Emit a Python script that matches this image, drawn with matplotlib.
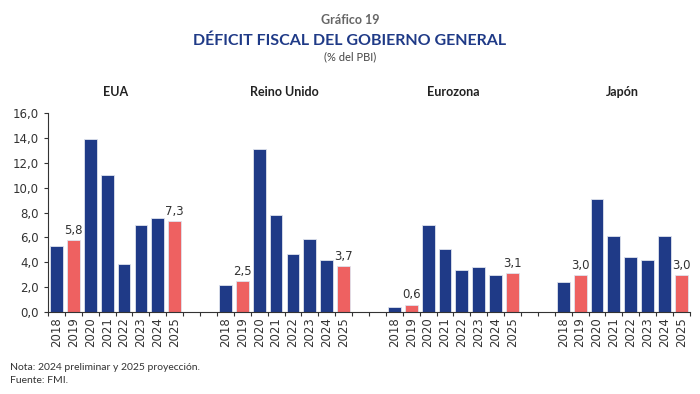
import numpy as np
import matplotlib.pyplot as plt

regiones = ["EUA", "Reino Unido", "Eurozona", "Japón"]
anios = ["2018", "2019", "2020", "2021", "2022", "2023", "2024", "2025"]
eua = [5.3, 5.8, 13.9, 11.0, 3.9, 7.0, 7.6, 7.3]
reino_unido = [2.2, 2.5, 13.1, 7.8, 4.7, 5.9, 4.2, 3.7]
eurozona = [0.4, 0.6, 7.0, 5.1, 3.4, 3.6, 3.0, 3.1]
japon = [2.4, 3.0, 9.1, 6.1, 4.4, 4.2, 6.1, 3.0]
series = [eua, reino_unido, eurozona, japon]
destacados = ["2019", "2025"]

azul = "#1f3a87"
rojo = "#ee6161"

fig = plt.figure(figsize=(7, 3.94), dpi=100)
ax = fig.add_axes([0.0686, 0.208, 0.917, 0.505])

gap = 2
pos = []
labels = []
for g, vals in enumerate(series):
    x0 = g * (len(anios) + gap)
    xs = x0 + np.arange(len(anios))
    cols = [rojo if a in destacados else azul for a in anios]
    ax.bar(xs, vals, width=0.76, color=cols, edgecolor="#dfe3ee", linewidth=0.6)
    for x, v, a in zip(xs, vals, anios):
        if a in destacados:
            ax.text(x, v + 0.25, f"{v:.1f}".replace(".", ","), ha="center",
                    va="bottom", fontsize=8.5, color="#333333")
    pos.extend(xs)
    labels.extend(anios)

n = 4 * len(anios) + 3 * gap
ax.set_xlim(-0.5, n - 0.5)
ax.set_ylim(0, 16)
yt = np.arange(0, 16.1, 2)
ax.set_yticks(yt)
ax.set_yticklabels([f"{v:.1f}".replace(".", ",") for v in yt])
ax.set_xticks(pos)
ax.set_xticklabels(labels, rotation=90)
ax.set_xticks(np.arange(-0.5, n, 1), minor=True)
ax.tick_params(axis="x", which="major", length=0, pad=4, labelsize=8.5, labelcolor="#333333")
ax.tick_params(axis="x", which="minor", length=3, color="#333333", width=0.8)
ax.tick_params(axis="y", length=3, labelsize=8.5, labelcolor="#333333", color="#333333", width=0.8)
for s in ["top", "right"]:
    ax.spines[s].set_visible(False)
for s in ["left", "bottom"]:
    ax.spines[s].set_color("#333333")
    ax.spines[s].set_linewidth(0.8)

# titulos de cada grupo
for g, r in enumerate(regiones):
    xc = g * (len(anios) + gap) + 3.5
    ax.text(xc, 1.105, r, transform=ax.get_xaxis_transform(), ha="center",
            va="center", fontsize=9, fontweight="bold", color="#222222", family="Lato")

fig.text(0.5, 0.948, "Gráfico 19", ha="center", va="center", fontsize=9,
         fontweight="bold", color="#666666", family="Lato")
fig.text(0.5, 0.897, "DÉFICIT FISCAL DEL GOBIERNO GENERAL", ha="center", va="center",
         fontsize=11.5, fontweight="bold", color="#1f3a87", family="Lato")
fig.text(0.5, 0.855, "(% del PBI)", ha="center", va="center", fontsize=8,
         color="#444444", family="Lato")
fig.text(0.014, 0.068, "Nota: 2024 preliminar y 2025 proyección.", ha="left",
         va="center", fontsize=7.5, color="#333333", family="Lato")
fig.text(0.014, 0.034, "Fuente: FMI.", ha="left", va="center", fontsize=7.5,
         color="#333333", family="Lato")

fig.savefig("out.png", dpi=100)
